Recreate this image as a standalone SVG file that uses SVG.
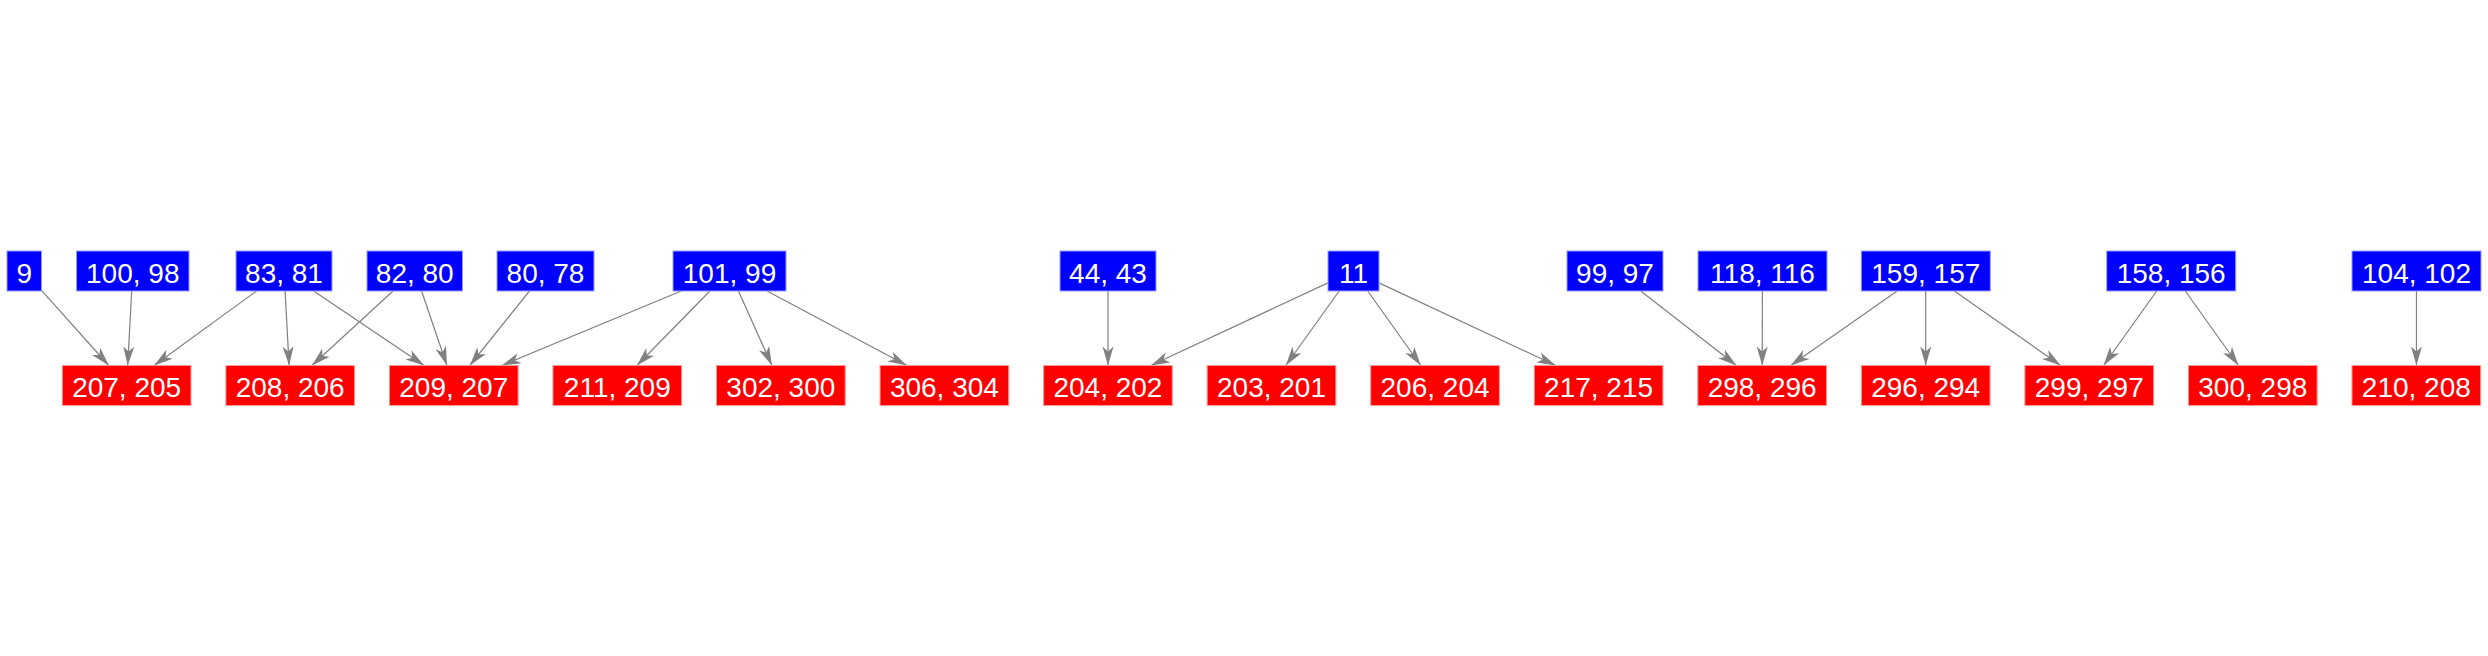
<svg xmlns="http://www.w3.org/2000/svg" width="2488" height="656" viewBox="0 0 2488 656">
<style>
.b rect{fill:#0000ff;stroke:#9a9aff;stroke-width:1}
.r rect{fill:#ff0000;stroke:#ff9a9a;stroke-width:1}
text{font-family:"Liberation Sans",Arial,sans-serif;font-size:28px;fill:#ffffff;text-anchor:middle}
#edges line{stroke:#808080;stroke-width:1.2;marker-end:url(#ah)}
</style>
<defs>
<marker id="ah" markerUnits="userSpaceOnUse" markerWidth="22" markerHeight="14" viewBox="-21 -7 22 14" refX="0" refY="0" orient="auto">
<path d="M0,0 L-19,-5.5 L-14,0 L-19,5.5 Z" fill="#808080"/>
</marker>
</defs>
<rect width="2488" height="656" fill="#ffffff"/>
<g id="edges">
<line x1="41.5" y1="290.3" x2="108.76" y2="365.5"/>
<line x1="131.68" y1="291" x2="127.72" y2="365.5"/>
<line x1="256.52" y1="291" x2="154.13" y2="365.5"/>
<line x1="285.08" y1="291" x2="289.12" y2="365.5"/>
<line x1="313.65" y1="291" x2="424.1" y2="365.5"/>
<line x1="392.99" y1="291" x2="311.96" y2="365.5"/>
<line x1="421.56" y1="291" x2="446.94" y2="365.5"/>
<line x1="529.47" y1="291" x2="469.78" y2="365.5"/>
<line x1="681.33" y1="291" x2="501.92" y2="365.5"/>
<line x1="709.9" y1="291" x2="636.9" y2="365.5"/>
<line x1="738.47" y1="291" x2="771.88" y2="365.5"/>
<line x1="767.04" y1="291" x2="906.86" y2="365.5"/>
<line x1="1108" y1="291" x2="1108" y2="365.5"/>
<line x1="1328" y1="282.9" x2="1150.84" y2="365.5"/>
<line x1="1339.18" y1="291" x2="1285.82" y2="365.5"/>
<line x1="1367.74" y1="291" x2="1420.81" y2="365.5"/>
<line x1="1379" y1="282.9" x2="1555.79" y2="365.5"/>
<line x1="1640.7" y1="291" x2="1736.45" y2="365.5"/>
<line x1="1762.4" y1="291" x2="1762.2" y2="365.5"/>
<line x1="1897.17" y1="291" x2="1790.73" y2="365.5"/>
<line x1="1925.7" y1="291" x2="1925.7" y2="365.5"/>
<line x1="1954.31" y1="291" x2="2060.69" y2="365.5"/>
<line x1="2156.72" y1="291" x2="2103.53" y2="365.5"/>
<line x1="2185.29" y1="291" x2="2238.51" y2="365.5"/>
<line x1="2416.45" y1="291" x2="2416.45" y2="365.5"/>
</g>
<g id="n9" class="b"><rect x="7" y="251" width="34.5" height="40"/><text x="24.25" y="282.5">9</text></g>
<g id="n100_98" class="b"><rect x="76.5" y="251" width="112.5" height="40"/><text x="132.75" y="282.5">100, 98</text></g>
<g id="n83_81" class="b"><rect x="236" y="251" width="96" height="40"/><text x="284" y="282.5">83, 81</text></g>
<g id="n82_80" class="b"><rect x="367" y="251" width="95.5" height="40"/><text x="414.75" y="282.5">82, 80</text></g>
<g id="n80_78" class="b"><rect x="497" y="251" width="97" height="40"/><text x="545.5" y="282.5">80, 78</text></g>
<g id="n101_99" class="b"><rect x="673" y="251" width="113" height="40"/><text x="729.5" y="282.5">101, 99</text></g>
<g id="n44_43" class="b"><rect x="1060" y="251" width="96" height="40"/><text x="1108" y="282.5">44, 43</text></g>
<g id="n11" class="b"><rect x="1328" y="251" width="51" height="40"/><text x="1353.5" y="282.5">11</text></g>
<g id="n99_97" class="b"><rect x="1567" y="251" width="96" height="40"/><text x="1615" y="282.5">99, 97</text></g>
<g id="n118_116" class="b"><rect x="1698" y="251" width="129" height="40"/><text x="1762.5" y="282.5">118, 116</text></g>
<g id="n159_157" class="b"><rect x="1861.3" y="251" width="129" height="40"/><text x="1925.8" y="282.5">159, 157</text></g>
<g id="n158_156" class="b"><rect x="2106.7" y="251" width="129" height="40"/><text x="2171.2" y="282.5">158, 156</text></g>
<g id="n104_102" class="b"><rect x="2352" y="251" width="129" height="40"/><text x="2416.5" y="282.5">104, 102</text></g>
<g id="n207_205" class="r"><rect x="62.3" y="365.5" width="128.7" height="40"/><text x="126.65" y="397">207, 205</text></g>
<g id="n208_206" class="r"><rect x="225.85" y="365.5" width="128.7" height="40"/><text x="290.2" y="397">208, 206</text></g>
<g id="n209_207" class="r"><rect x="389.4" y="365.5" width="128.7" height="40"/><text x="453.75" y="397">209, 207</text></g>
<g id="n211_209" class="r"><rect x="552.95" y="365.5" width="128.7" height="40"/><text x="617.3" y="397">211, 209</text></g>
<g id="n302_300" class="r"><rect x="716.5" y="365.5" width="128.7" height="40"/><text x="780.85" y="397">302, 300</text></g>
<g id="n306_304" class="r"><rect x="880.05" y="365.5" width="128.7" height="40"/><text x="944.4" y="397">306, 304</text></g>
<g id="n204_202" class="r"><rect x="1043.6" y="365.5" width="128.7" height="40"/><text x="1107.95" y="397">204, 202</text></g>
<g id="n203_201" class="r"><rect x="1207.15" y="365.5" width="128.7" height="40"/><text x="1271.5" y="397">203, 201</text></g>
<g id="n206_204" class="r"><rect x="1370.7" y="365.5" width="128.7" height="40"/><text x="1435.05" y="397">206, 204</text></g>
<g id="n217_215" class="r"><rect x="1534.25" y="365.5" width="128.7" height="40"/><text x="1598.6" y="397">217, 215</text></g>
<g id="n298_296" class="r"><rect x="1697.8" y="365.5" width="128.7" height="40"/><text x="1762.15" y="397">298, 296</text></g>
<g id="n296_294" class="r"><rect x="1861.35" y="365.5" width="128.7" height="40"/><text x="1925.7" y="397">296, 294</text></g>
<g id="n299_297" class="r"><rect x="2024.9" y="365.5" width="128.7" height="40"/><text x="2089.25" y="397">299, 297</text></g>
<g id="n300_298" class="r"><rect x="2188.45" y="365.5" width="128.7" height="40"/><text x="2252.8" y="397">300, 298</text></g>
<g id="n210_208" class="r"><rect x="2352" y="365.5" width="128.7" height="40"/><text x="2416.35" y="397">210, 208</text></g>
</svg>
